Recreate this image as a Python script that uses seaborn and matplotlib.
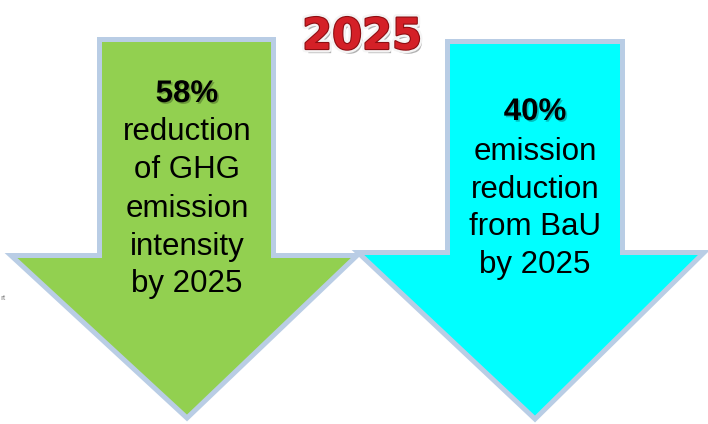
import matplotlib
matplotlib.use("Agg")
import matplotlib.pyplot as plt
import matplotlib.patheffects as pe
from matplotlib.patches import Polygon
import seaborn as sns

# content
headline = "2025"
left_lines = ["58%", "reduction", "of GHG", "emission", "intensity", "by 2025"]
right_lines = ["40%", "emission", "reduction", "from BaU", "by 2025"]
left_color = "#92D050"
right_color = "#00FFFF"
border_color = "#B9CDE5"

sns.set_style("white")
plt.rcParams['font.family'] = ['Liberation Sans', 'DejaVu Sans']

fig = plt.figure(figsize=(7.08, 4.24), dpi=100)
ax = fig.add_axes([0, 0, 1, 1])
ax.set_xlim(0, 708)
ax.set_ylim(424, 0)
ax.axis('off')


def down_arrow(ax, x0, x1, top, neck, hl, hr, tip_x, tip_y, color, z):
    pts = [(x0, top), (x1, top), (x1, neck), (hr, neck),
           (tip_x, tip_y), (hl, neck), (x0, neck)]
    ax.add_patch(Polygon(pts, closed=True, facecolor=color,
                         edgecolor=border_color, linewidth=3.6,
                         joinstyle='miter', zorder=z))


down_arrow(ax, 99.5, 273.5, 39.5, 255.5, 11, 357, 187, 418, left_color, 1)
down_arrow(ax, 447.5, 622.5, 41.5, 252.5, 358, 704, 535, 419, right_color, 2)

shadow = [pe.withSimplePatchShadow(offset=(1.2, -1.2), shadow_rgbFace='k', alpha=0.25)]

# left arrow text
left_base = [102, 140, 178, 217, 255, 292]
for i, (txt, yb) in enumerate(zip(left_lines, left_base)):
    ax.text(187, yb, txt, ha='center', va='baseline', fontsize=22.5,
            fontweight='bold' if i == 0 else 'normal', color='black',
            path_effects=shadow if i == 0 else None, zorder=5)

# right arrow text
right_base = [120, 160, 198, 235, 273]
for i, (txt, yb) in enumerate(zip(right_lines, right_base)):
    ax.text(535, yb, txt, ha='center', va='baseline', fontsize=22.5,
            fontweight='bold' if i == 0 else 'normal', color='black',
            path_effects=shadow if i == 0 else None, zorder=5)

# headline
ax.text(362, 49, headline, ha='center', va='baseline', fontsize=31,
        fontweight='bold', family='DejaVu Sans', color='#D42027', zorder=6,
        path_effects=[pe.withSimplePatchShadow(offset=(2, -3), shadow_rgbFace='k', alpha=0.3),
                      pe.Stroke(linewidth=5, foreground='#F4F4F4'),
                      pe.Stroke(linewidth=1.6, foreground='#8E0E12'), pe.Normal()])

# cut-off remnant text on the left edge
ax.text(0, 299, "rt", ha='left', va='center', fontsize=6, color='#888888')

plt.savefig("out.png", dpi=100)
